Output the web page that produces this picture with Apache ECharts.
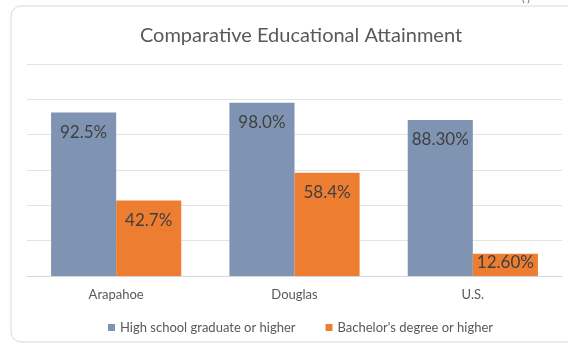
<!DOCTYPE html>
<html>
<head>
<meta charset="utf-8">
<script src="https://cdn.jsdelivr.net/npm/echarts@6/dist/echarts.min.js"></script>
<style>
  html, body { margin: 0; padding: 0; background: #fff; }
  #chart { width: 568px; height: 344px; }
</style>
</head>
<body>
<div id="chart"></div>
<script>
const categories = ['Arapahoe', 'Douglas', 'U.S.'];
const seriesNames = ['High school graduate or higher', "Bachelor's degree or higher"];
const highSchool = [92.5, 98.0, 88.3];
const highSchoolLabels = ['92.5%', '98.0%', '88.30%'];
const bachelor = [42.7, 58.4, 12.6];
const bachelorLabels = ['42.7%', '58.4%', '12.60%'];

const font = 'Lato, "Open Sans", sans-serif';

const toItems = (values, labels) => values.map((v, i) => ({
  value: v,
  label: { formatter: labels[i], distance: v < 20 ? 0 : 11 },
}));

const chart = echarts.init(document.getElementById('chart'));

chart.setOption({
  backgroundColor: '#fff',
  animation: false,
  color: ['#7f94b2', '#ed7d31'],
  textStyle: { fontFamily: font },
  title: {
    text: 'Comparative Educational Attainment',
    left: 296,
    textAlign: 'center',
    top: 21,
    textStyle: { fontSize: 20, fontWeight: 'normal', color: '#595959', fontFamily: font },
  },
  graphic: [
    {
      type: 'rect',
      shape: { x: 11, y: 6, width: 580, height: 336, r: 10 },
      style: { fill: 'none', stroke: '#d9d9d9', lineWidth: 1 },
      silent: true,
    },
    {
      type: 'text',
      left: 522,
      top: -6,
      style: { text: '( )', fill: '#595959', font: '10px ' + font },
    },
  ],
  legend: {
    bottom: 5,
    left: 103,
    itemWidth: 7,
    itemHeight: 7,
    itemGap: 30,
    itemStyle: { borderWidth: 0 },
    icon: 'rect',
    textStyle: { fontSize: 13, color: '#595959', fontFamily: font },
    data: seriesNames,
  },
  grid: { left: 27, right: 6, top: 64, bottom: 68, containLabel: false },
  xAxis: {
    type: 'category',
    data: categories,
    axisLine: { lineStyle: { color: '#d9d9d9' } },
    axisTick: { show: false },
    axisLabel: { color: '#595959', fontSize: 13, margin: 12 },
  },
  yAxis: {
    type: 'value',
    min: 0,
    max: 120,
    interval: 20,
    axisLabel: { show: false },
    axisLine: { show: false },
    axisTick: { show: false },
    splitLine: { lineStyle: { color: '#e3e3e3' } },
  },
  series: [
    {
      name: seriesNames[0],
      type: 'bar',
      barGap: 0,
      barCategoryGap: '27%',
      data: toItems(highSchool, highSchoolLabels),
      label: { show: true, position: 'insideTop', color: '#404040', fontSize: 17 },
    },
    {
      name: seriesNames[1],
      type: 'bar',
      barGap: 0,
      barCategoryGap: '27%',
      data: toItems(bachelor, bachelorLabels),
      label: { show: true, position: 'insideTop', color: '#404040', fontSize: 17 },
    },
  ],
});
</script>
</body>
</html>
